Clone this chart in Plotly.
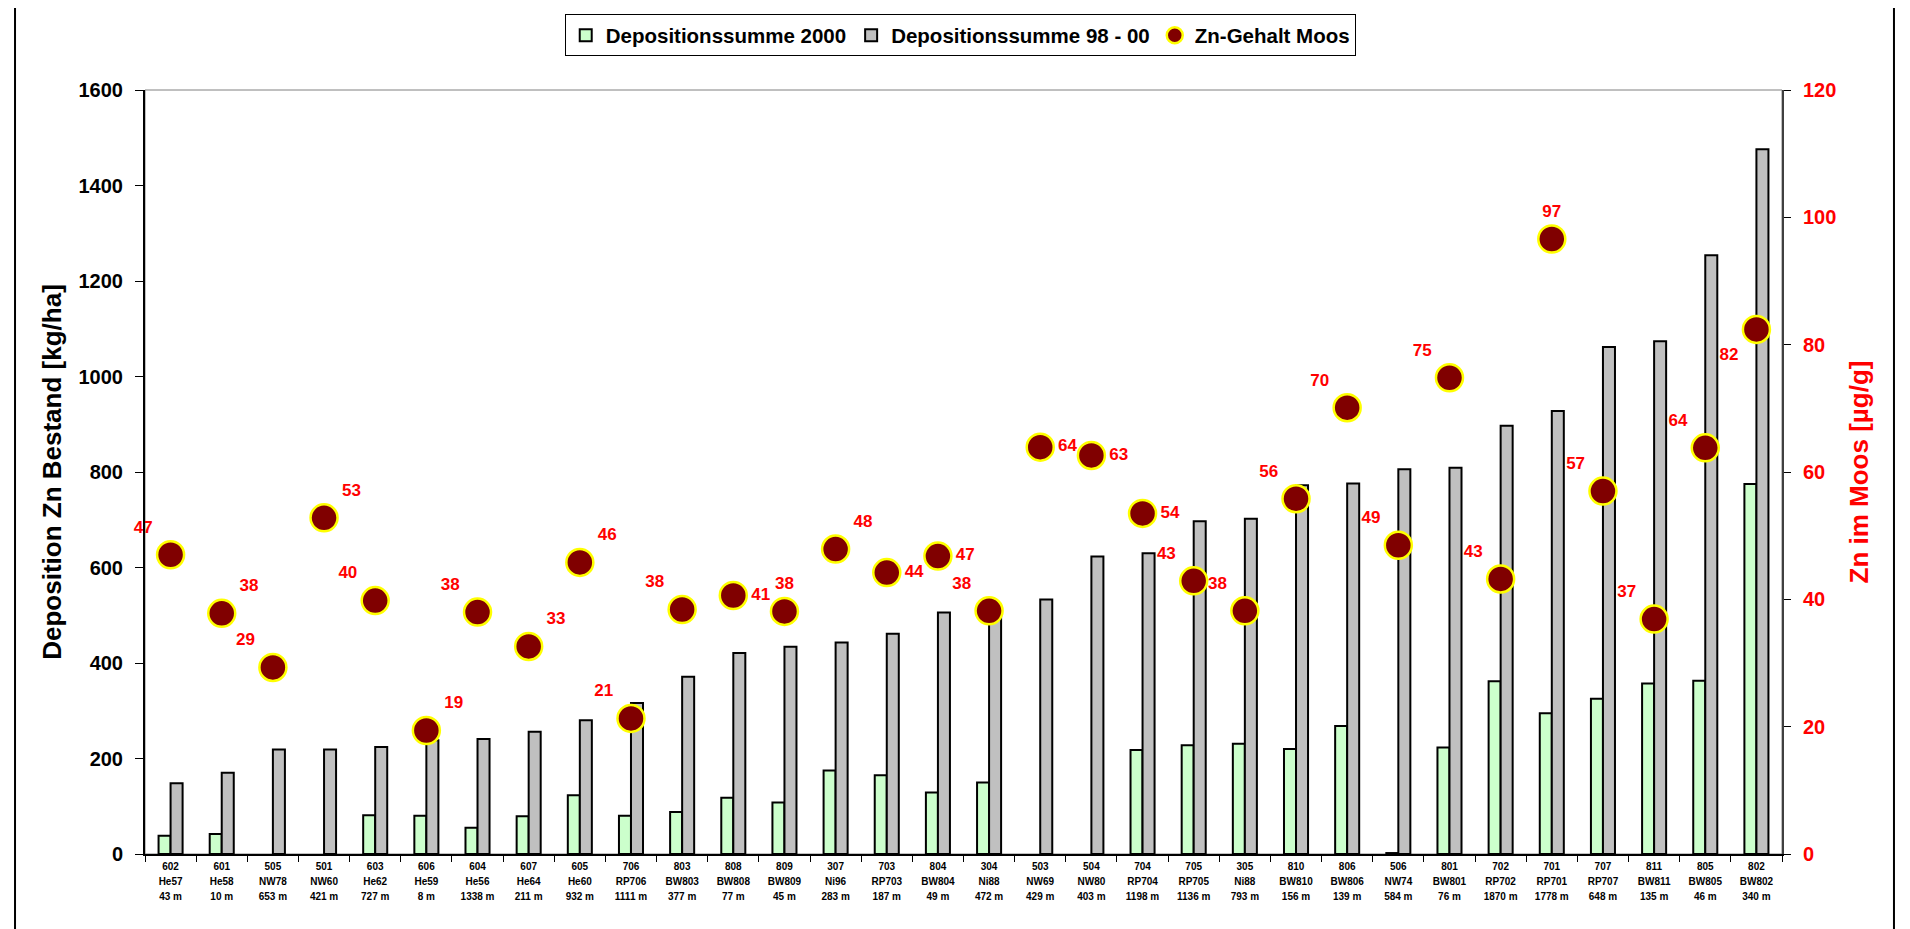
import plotly.graph_objects as go


# station data
station_ids = ['602', '601', '505', '501', '603', '606', '604', '607', '605', '706', '803', '808', '809', '307', '703', '804',
               '304', '503', '504', '704', '705', '305', '810', '806', '506', '801', '702', '701', '707', '811', '805', '802']
station_names = ['He57', 'He58', 'NW78', 'NW60', 'He62', 'He59', 'He56', 'He64', 'He60', 'RP706', 'BW803', 'BW808', 'BW809', 'Ni96', 'RP703', 'BW804',
                 'Ni88', 'NW69', 'NW80', 'RP704', 'RP705', 'Ni88', 'BW810', 'BW806', 'NW74', 'BW801', 'RP702', 'RP701', 'RP707', 'BW811', 'BW805', 'BW802']
distances = [43, 10, 653, 421, 727, 8, 1338, 211, 932, 1111, 377, 77, 45, 283, 187, 49,
             472, 429, 403, 1198, 1136, 793, 156, 139, 584, 76, 1870, 1778, 648, 135, 46, 340]

depo_2000 = [38, 42, None, None, 81, 80, 55, 79, 123, 80, 88, 118, 108, 175, 165, 129,
             150, None, None, 218, 228, 231, 220, 268, 2, 223, 362, 295, 325, 357, 363, 775]
depo_98_00 = [148, 170, 219, 219, 224, 238, 241, 256, 280, 316, 371, 421, 434, 443, 461, 506,
              510, 533, 623, 630, 697, 702, 772, 776, 806, 809, 897, 928, 1062, 1074, 1254, 1476]
zn_moos = [47.0, 37.8, 29.3, 52.8, 39.8, 19.4, 38.0, 32.6, 45.8, 21.3, 38.4, 40.6, 38.1, 47.9, 44.2, 46.8,
           38.2, 63.9, 62.6, 53.5, 42.9, 38.2, 55.8, 70.1, 48.5, 74.8, 43.2, 96.6, 57.0, 36.9, 63.8, 82.4]

# where excel had the value labels dragged to
label_pos = ['top left', 'top right', 'top left', 'top right', 'top left', 'top right', 'top left', 'top right',
             'top right', 'top left', 'top left', 'middle right', 'top center', 'top right', 'middle right', 'middle right',
             'top left', 'middle right', 'middle right', 'middle right', 'top left', 'top left', 'top left', 'top left',
             'top left', 'top left', 'top left', 'top center', 'top left', 'top left', 'top left', 'bottom left']

FONT = 'Arial, Liberation Sans, sans-serif'

tick_text = ["<span style='font-size:10px'>%s<br>%s<br>%d m</span>" % (a, b, c)
             for a, b, c in zip(station_ids, station_names, distances)]

fig = go.Figure()

fig.add_trace(go.Bar(
	x				= station_ids,
	y				= depo_2000,
	name			= 'Depositionssumme 2000',
	marker_color	= '#CCFFCC',
	marker_line		= dict(color='black', width=2),
))
fig.add_trace(go.Bar(
	x				= station_ids,
	y				= depo_98_00,
	name			= 'Depositionssumme 98 - 00',
	marker_color	= '#C0C0C0',
	marker_line		= dict(color='black', width=2),
))
fig.add_trace(go.Scatter(
	x				= station_ids,
	y				= zn_moos,
	yaxis			= 'y2',
	name			= 'Zn-Gehalt Moos',
	mode			= 'markers+text',
	marker			= dict(size=27, color='#800000', line=dict(color='#FFFF00', width=2.5)),
	texttemplate	= '%{y:.0f}',
	textposition	= label_pos,
	textfont		= dict(family=FONT, size=17, color='#FF0000', weight='bold'),
	cliponaxis		= False,
))

# page has an 8px body margin, margins below are corrected for it
fig.update_layout(
	width=1910, height=929,
	margin=dict(l=137, r=136, t=82, b=83, autoexpand=False),
	paper_bgcolor='white', plot_bgcolor='white',
	font=dict(family=FONT, color='black'),
	barmode='group', bargap=0.53, bargroupgap=0,
	legend=dict(
		orientation='h', x=0.498, xanchor='center', y=1.099, yanchor='top',
		font=dict(size=20.5, weight='bold'),
		bordercolor='black', borderwidth=1, bgcolor='white',
		itemwidth=30, traceorder='normal',
	),
	xaxis=dict(
		type='category', tickmode='array', tickvals=station_ids, ticktext=tick_text,
		range=[-0.5, len(station_ids) - 0.5],
		tickson='boundaries', ticks='outside', ticklen=6, tickcolor='black',
		tickfont=dict(size=11.5, weight='bold', color='black'),
		showline=True, linecolor='black', linewidth=2, showgrid=False,
	),
	yaxis=dict(
		range=[0, 1600], dtick=200, showgrid=False, zeroline=False,
		showline=True, linecolor='black', linewidth=2,
		ticks='outside', ticklen=8, tickcolor='black', ticklabelstandoff=8,
		tickfont=dict(size=20, weight='bold', color='black'),
		title=dict(text='Deposition Zn Bestand [kg/ha]', standoff=9,
				   font=dict(size=26, weight='bold', color='black')),
	),
	yaxis2=dict(
		overlaying='y', side='right', range=[0, 120], dtick=20, showgrid=False, zeroline=False,
		showline=True, linecolor='#404040', linewidth=2,
		ticks='outside', ticklen=7, tickcolor='black', ticklabelstandoff=8,
		tickfont=dict(size=20, weight='bold', color='#FF0000'),
		title=dict(text='Zn im Moos [µg/g]', standoff=14,
				   font=dict(size=26, weight='bold', color='#FF0000')),
	),
	shapes=[
		# plot area frame (grey) and outer chart border
		dict(type='rect', xref='paper', yref='paper', x0=0, x1=1, y0=0, y1=1,
			 line=dict(color='#808080', width=1), layer='below'),
		dict(type='rect', xref='paper', yref='paper', x0=-0.0794, x1=1.0684, y0=-0.12, y1=1.115,
			 line=dict(color='black', width=2)),
	],
)

fig.write_html("out.html")
